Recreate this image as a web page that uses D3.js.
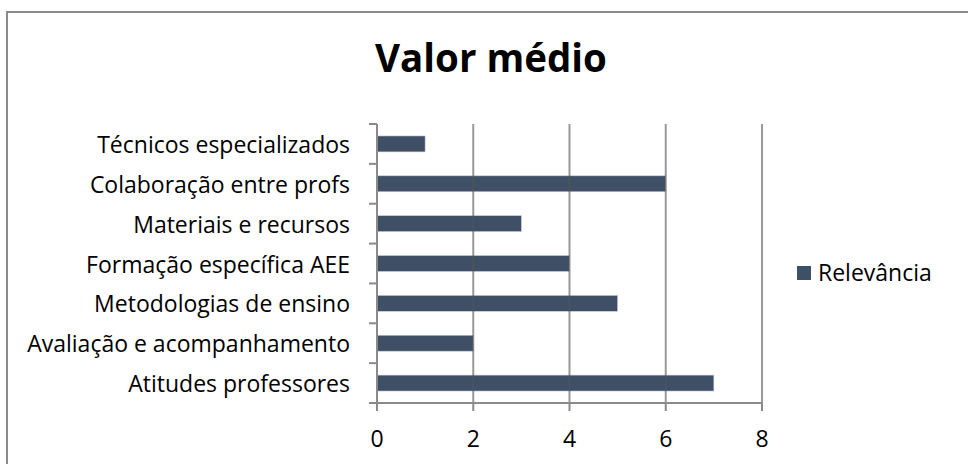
<!DOCTYPE html>
<html>
<head>
<meta charset="utf-8">
<script src="https://cdn.jsdelivr.net/npm/d3@7"></script>
<style>
  body { margin: 0; background: #fff; }
  text { font-family: "Open Sans", "Noto Sans", sans-serif; fill: #000; }
</style>
</head>
<body>
<svg id="chart" width="968" height="464"></svg>
<script>
// ── Data (top to bottom as shown) ──
const categories = [
    "Técnicos especializados",
    "Colaboração entre profs",
    "Materiais e recursos",
    "Formação específica AEE",
    "Metodologias de ensino",
    "Avaliação e acompanhamento",
    "Atitudes professores"
];
const values = [1, 6, 3, 4, 5, 2, 7];
const xTicks = [0, 2, 4, 6, 8];
const seriesName = "Relevância";
const chartTitle = "Valor médio";

const barColor = "#3f4f66";
const gridColor = "#8a8a8a";
const labelSize = "23px";

const svg = d3.select("#chart");

// outer chart border (right/bottom fall off the canvas)
svg.append("rect")
    .attr("x", 7).attr("y", 12)
    .attr("width", 980).attr("height", 480)
    .style("fill", "#fff")
    .style("stroke", gridColor)
    .style("stroke-width", 2);

// ── Scales ──
const x = d3.scaleLinear().domain([0, 8]).range([377, 762]);
const y = d3.scaleBand().domain(categories).range([124, 403]);
const barH = y.bandwidth() * 0.4;

// ── Title ──
svg.append("text")
    .attr("x", 491).attr("y", 72)
    .attr("text-anchor", "middle")
    .style("font-size", "38.5px")
    .style("font-weight", "bold")
    .text(chartTitle);

// ── Bars ──
svg.append("g").selectAll("rect")
    .data(categories)
    .join("rect")
    .attr("x", x(0))
    .attr("y", c => y(c) + (y.bandwidth() - barH) / 2)
    .attr("width", (c, i) => x(values[i]) - x(0))
    .attr("height", barH)
    .style("fill", barColor)
    .style("stroke", "#c9cfd8")
    .style("stroke-width", 0.6);

// ── Gridlines (over bars, darkening through them) ──
svg.append("g").selectAll("line")
    .data(xTicks.slice(1))
    .join("line")
    .attr("x1", d => x(d)).attr("x2", d => x(d))
    .attr("y1", 124).attr("y2", 403)
    .style("stroke", "#555")
    .style("stroke-opacity", 0.6)
    .style("stroke-width", 2);

// ── Left axis ──
const yAxis = svg.append("g");
yAxis.append("line")
    .attr("x1", x(0)).attr("x2", x(0))
    .attr("y1", 124).attr("y2", 404)
    .style("stroke", gridColor).style("stroke-width", 2);
const bounds = categories.map(c => y(c)).concat([403]);
yAxis.selectAll("line.tick")
    .data(bounds)
    .join("line")
    .classed("tick", true)
    .attr("x1", x(0) - 8).attr("x2", x(0))
    .attr("y1", d => d).attr("y2", d => d)
    .style("stroke", gridColor).style("stroke-width", 2);
yAxis.selectAll("text")
    .data(categories)
    .join("text")
    .attr("x", 350)
    .attr("y", c => y(c) + y.bandwidth() / 2 + 1)
    .attr("dy", "0.35em")
    .attr("text-anchor", "end")
    .style("font-size", labelSize)
    .text(c => c);

// ── Bottom axis ──
const xAxis = svg.append("g");
xAxis.append("line")
    .attr("x1", x(0) - 8).attr("x2", x(8))
    .attr("y1", 403).attr("y2", 403)
    .style("stroke", gridColor).style("stroke-width", 2);
xAxis.selectAll("line.tick")
    .data(xTicks)
    .join("line")
    .classed("tick", true)
    .attr("x1", d => x(d)).attr("x2", d => x(d))
    .attr("y1", 403).attr("y2", 411)
    .style("stroke", gridColor).style("stroke-width", 2);
xAxis.selectAll("text")
    .data(xTicks)
    .join("text")
    .attr("x", d => x(d))
    .attr("y", 447)
    .attr("text-anchor", "middle")
    .style("font-size", labelSize)
    .text(d => d);

// ── Legend ──
const legend = svg.append("g");
legend.append("rect")
    .attr("x", 797).attr("y", 266)
    .attr("width", 14).attr("height", 14)
    .style("fill", barColor);
legend.append("text")
    .attr("x", 818).attr("y", 281)
    .style("font-size", labelSize)
    .text(seriesName);
</script>
</body>
</html>
